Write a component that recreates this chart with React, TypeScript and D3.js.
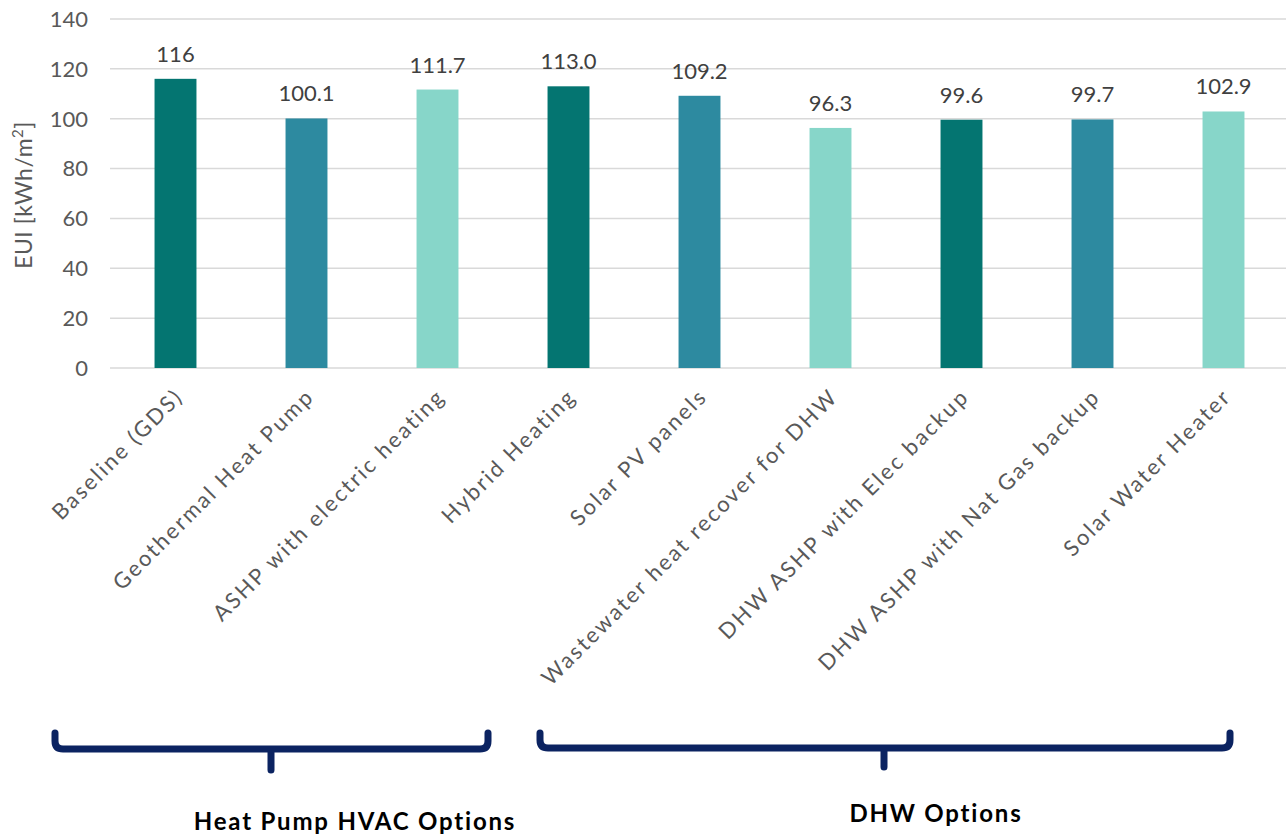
import React from "react";
import * as d3 from "d3";

const categories = [
  "Baseline (GDS)",
  "Geothermal Heat Pump",
  "ASHP with electric heating",
  "Hybrid Heating",
  "Solar PV panels",
  "Wastewater heat recover for DHW",
  "DHW ASHP with Elec backup",
  "DHW ASHP with Nat Gas backup",
  "Solar Water Heater",
];
const values = [116, 100.1, 111.7, 113.0, 109.2, 96.3, 99.6, 99.7, 102.9];
const valueLabels = ["116", "100.1", "111.7", "113.0", "109.2", "96.3", "99.6", "99.7", "102.9"];
const yTicks = [0, 20, 40, 60, 80, 100, 120, 140];
const palette = ["#047571", "#2D8AA0", "#87D6C9"];
const groups = [
  { label: "Heat Pump HVAC Options", first: 0, last: 2 },
  { label: "DHW Options", first: 3, last: 8 },
];

const W = 1286;
const H = 837;
const FONT = "Lato, 'Open Sans', sans-serif";

export default function App() {
  const x = d3
    .scaleBand<string>()
    .domain(categories)
    .range([110, 1289])
    .paddingInner(0.68)
    .paddingOuter(0.34);
  const y = d3.scaleLinear().domain([0, 140]).range([368, 19]);
  const y0 = y(0);

  // brace geometry (layout, not data)
  const braces = [
    { x0: 55, x1: 488, xt: 271, top: 733, mid: 749, bot: 770, tx: 355, ty: 830 },
    { x0: 540, x1: 1230, xt: 884, top: 733, mid: 748, bot: 767, tx: 936, ty: 822 },
  ];

  return (
    <svg width={W} height={H} style={{ position: "absolute", left: 0, top: 0, background: "#fff" }}>
      <g>
        {yTicks.map((t) => (
          <g key={t}>
            <line x1={110} x2={W} y1={y(t)} y2={y(t)} stroke="#d9d9d9" strokeWidth={1.5} />
            <text
              x={88}
              y={y(t)}
              dy="0.36em"
              textAnchor="end"
              fontFamily={FONT}
              fontSize={22}
              fill="#595959"
            >
              {t}
            </text>
          </g>
        ))}
      </g>
      <text
        transform={`translate(32,195) rotate(-90)`}
        textAnchor="middle"
        fontFamily={FONT}
        fontSize={23}
        letterSpacing={0.5}
        fill="#595959"
      >
        EUI [kWh/m<tspan dy="-9" fontSize={15}>2</tspan>
        <tspan dy="9">]</tspan>
      </text>
      {categories.map((c, i) => {
        const bx = x(c)!;
        const cx = bx + x.bandwidth() / 2;
        return (
          <g key={c}>
            <rect
              x={bx}
              y={y(values[i])}
              width={x.bandwidth()}
              height={y0 - y(values[i])}
              fill={palette[i % 3]}
            />
            <text
              x={cx}
              y={y(values[i]) - 17}
              textAnchor="middle"
              fontFamily={FONT}
              fontSize={22}
              fill="#404040"
            >
              {valueLabels[i]}
            </text>
            <text
              transform={`translate(${cx + 9},${y0 + 30}) rotate(-45)`}
              textAnchor="end"
              fontFamily={FONT}
              fontSize={22}
              letterSpacing={2.3}
              fill="#595959"
            >
              {c}
            </text>
          </g>
        );
      })}
      {groups.map((g, i) => {
        const b = braces[i];
        const r = 8;
        const d = `M${b.x0},${b.top} L${b.x0},${b.mid - r} Q${b.x0},${b.mid} ${b.x0 + r},${b.mid} L${b.x1 - r},${b.mid} Q${b.x1},${b.mid} ${b.x1},${b.mid - r} L${b.x1},${b.top} M${b.xt},${b.mid} L${b.xt},${b.bot}`;
        return (
          <g key={g.label}>
            <path
              d={d}
              fill="none"
              stroke="#0B2361"
              strokeWidth={7}
              strokeLinecap="round"
              strokeLinejoin="round"
            />
            <text
              x={b.tx}
              y={b.ty}
              textAnchor="middle"
              fontFamily={FONT}
              fontSize={24}
              letterSpacing={1.8}
              fontWeight="bold"
              fill="#000"
            >
              {g.label}
            </text>
          </g>
        );
      })}
    </svg>
  );
}
